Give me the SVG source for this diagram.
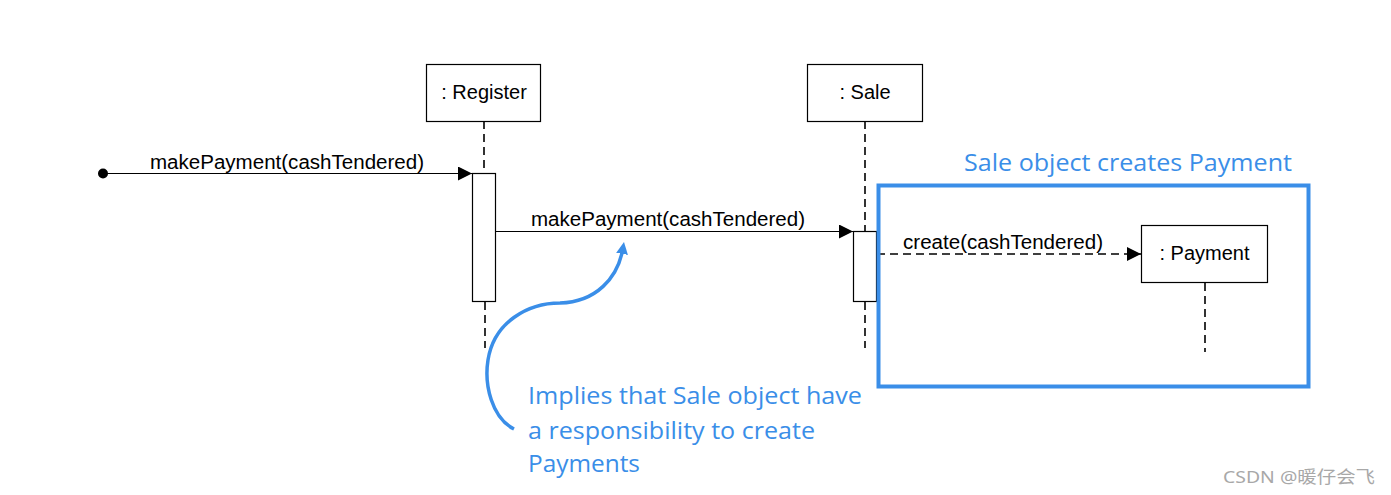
<svg xmlns="http://www.w3.org/2000/svg" width="1391" height="495" viewBox="0 0 1391 495">
<style>
.box{fill:#fff;stroke:#000;stroke-width:1.2}
.life{stroke:#000;stroke-width:1.6;stroke-dasharray:8,5;fill:none}
.msg{stroke:#000;stroke-width:1.2;fill:none}
.dmsg{stroke:#000;stroke-width:1.4;stroke-dasharray:8,5;fill:none}
.lbl{font-family:"Liberation Sans",Arial,sans-serif;font-size:20px;fill:#000}
.note{font-family:"Open Sans","Noto Sans",sans-serif;font-size:23px;fill:#3a8ee8}
.blue{stroke:#3a8ee8;fill:none}
</style>
<defs>
<marker id="ah" markerWidth="14" markerHeight="14" refX="14" refY="7" orient="auto" markerUnits="userSpaceOnUse">
<path d="M0,0 L14,7 L0,14 Z" fill="#000"/>
</marker>
<marker id="bh" markerWidth="12" markerHeight="12" refX="6" refY="6" orient="auto" markerUnits="userSpaceOnUse">
<path d="M0,0 L12,6 L0,12 Z" fill="#3a8ee8"/>
</marker>
</defs>
<rect width="1391" height="495" fill="#fff"/>

<g id="register">
<line class="life" x1="484" y1="121" x2="484" y2="173"/>
<line class="life" x1="485" y1="302" x2="485" y2="348"/>
<rect class="box" x="426.5" y="64.5" width="114" height="57"/>
<text class="lbl" x="484" y="99" text-anchor="middle">: Register</text>
<rect class="box" x="472.5" y="173.5" width="23" height="128"/>
</g>

<g id="sale">
<line class="life" x1="865" y1="121" x2="865" y2="231"/>
<line class="life" x1="865" y1="302" x2="865" y2="348"/>
<rect class="box" x="807.5" y="64.5" width="115" height="57"/>
<text class="lbl" x="865" y="99" text-anchor="middle">: Sale</text>
<rect class="box" x="853.5" y="231.5" width="23" height="70"/>
</g>

<g id="payment">
<line class="life" x1="1205" y1="283" x2="1205" y2="352"/>
<rect class="box" x="1141.5" y="225.5" width="126" height="57"/>
<text class="lbl" x="1204.5" y="260" text-anchor="middle">: Payment</text>
</g>

<g id="connectors">
<circle cx="103" cy="173.5" r="5" fill="#000"/>
<line class="msg" x1="103" y1="173.5" x2="472" y2="173.5" marker-end="url(#ah)"/>
<text class="lbl" x="150" y="169" textLength="274" lengthAdjust="spacingAndGlyphs">makePayment(cashTendered)</text>
<line class="msg" x1="496" y1="231.5" x2="853" y2="231.5" marker-end="url(#ah)"/>
<text class="lbl" x="531" y="226" textLength="274" lengthAdjust="spacingAndGlyphs">makePayment(cashTendered)</text>
<line class="dmsg" x1="877" y1="254" x2="1141" y2="254" marker-end="url(#ah)"/>
<text class="lbl" x="903" y="249" textLength="200" lengthAdjust="spacingAndGlyphs">create(cashTendered)</text>
</g>

<g id="sale-creates-payment">
<rect class="blue" x="878.5" y="185.5" width="430" height="201" stroke-width="4"/>
<text class="note" x="964" y="171" textLength="328" lengthAdjust="spacingAndGlyphs">Sale object creates Payment</text>
</g>

<g id="annotation">
<path class="blue" stroke-width="3.5" d="M514,429 C492,418 484,385 488,360 C494,322 528,303 560,303 C596,302 618,278 623,248" marker-end="url(#bh)"/>
<text class="note" x="528" y="404" textLength="334" lengthAdjust="spacingAndGlyphs">Implies that Sale object have</text>
<text class="note" x="528" y="438.5" textLength="287" lengthAdjust="spacingAndGlyphs">a responsibility to create</text>
<text class="note" x="528" y="472" textLength="112" lengthAdjust="spacingAndGlyphs">Payments</text>
</g>

<text x="1223" y="483" font-family="'Noto Sans','Noto Sans CJK SC',sans-serif" font-size="17" fill="#a8a8a8" textLength="152" lengthAdjust="spacingAndGlyphs">CSDN @暖仔会飞</text>
</svg>
